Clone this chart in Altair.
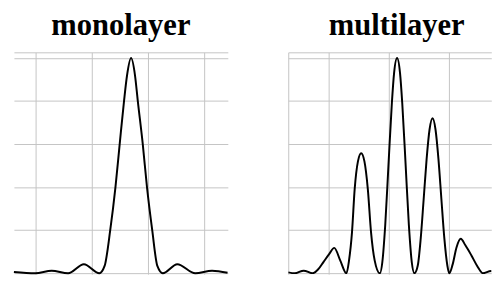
import altair as alt
import pandas as pd

# monolayer diffraction-like profile
mono_x = [-1.885, -1.505, -1.214, -0.922, -0.642, -0.367, -0.274, -0.174, -0.081, -0.006,
          0.071, 0.125, 0.196, 0.266, 0.316, 0.404, 0.479, 0.572, 0.663, 0.760,
          1.017, 1.337, 1.635, 1.910]
mono_y = [0.03, 0.0, 0.06, 0.0, 0.21, 0.0, 0.17, 1.0, 2.0, 3.0,
          4.0, 4.6, 5.0, 4.6, 4.0, 3.0, 2.0, 1.0, 0.17, 0.0,
          0.21, 0.0, 0.06, 0.01]

# multilayer profile
multi_x = [-1.680, -1.570, -1.423, -1.275, -1.177, -1.095, -0.997, -0.915, -0.816, -0.713,
           -0.669, -0.620, -0.575, -0.521, -0.467, -0.413, -0.357, -0.303, -0.243, -0.156,
           -0.116, -0.067, -0.013, 0.043, 0.080, 0.130, 0.179, 0.216, 0.272, 0.326,
           0.375, 0.418, 0.474, 0.523, 0.572, 0.621, 0.670, 0.720, 0.769, 0.818,
           0.867, 0.916, 0.966, 0.998, 1.053, 1.118, 1.189, 1.266, 1.364, 1.462,
           1.556, 1.692, 1.840]
multi_y = [0.02, 0.0, 0.06, 0.0, 0.1, 0.26, 0.45, 0.59, 0.3, 0.0,
           0.3, 0.95, 1.96, 2.6, 2.79, 2.6, 1.96, 0.95, 0.3, 0.0,
           0.25, 1.12, 2.52, 3.95, 4.65, 5.0, 4.65, 3.95, 2.52, 1.12,
           0.25, 0.0, 0.18, 0.81, 1.72, 2.65, 3.34, 3.6, 3.34, 2.65,
           1.72, 0.81, 0.18, 0.0, 0.2, 0.6, 0.8, 0.65, 0.42, 0.17,
           0.0, 0.05, 0.01]

titles = ["monolayer", "multilayer"]
mono_grid_x = [-1.5, -0.5, 0.5, 1.5]
multi_grid_x = [-1.68, -1.0, 0.0, 1.0]
grid_y = [0, 1, 2, 3, 4, 5, 5.133]

mono = pd.DataFrame({"x": mono_x, "y": mono_y})
multi = pd.DataFrame({"x": multi_x, "y": multi_y})

ax_common = dict(labels=False, ticks=False, domain=False, title=None,
                 gridColor="#c4c4c4", gridWidth=1, minExtent=0, maxExtent=0)

PLOT_H = 225


def panel(df, title, xdom, xgrid, width, dx=0, clip=False):
    return alt.Chart(df).mark_line(
        color="black", strokeWidth=2, interpolate="monotone", clip=clip
    ).encode(
        x=alt.X("x:Q", scale=alt.Scale(domain=xdom, nice=False, zero=False),
                axis=alt.Axis(values=xgrid, **ax_common)),
        y=alt.Y("y:Q", scale=alt.Scale(domain=[-0.02, 5.133], nice=False),
                axis=alt.Axis(values=grid_y, **ax_common)),
    ).properties(
        width=width, height=PLOT_H,
        title=alt.TitleParams(title, font="Liberation Serif", fontSize=31,
                              fontWeight="bold", color="black", anchor="middle",
                              offset=11, dx=dx),
    )


left = panel(mono, titles[0], [-1.885, 1.915], mono_grid_x, 217)
right = panel(multi, titles[1], [-1.68, 1.697], multi_grid_x, 206, dx=7, clip=True)

chart = alt.hconcat(left, right, spacing=57.3).properties(
    padding={"left": 2, "top": 0, "right": 0, "bottom": 0}
).configure_view(stroke=None)

chart.save("out.html", embed_options={"renderer": "svg", "actions": False})
